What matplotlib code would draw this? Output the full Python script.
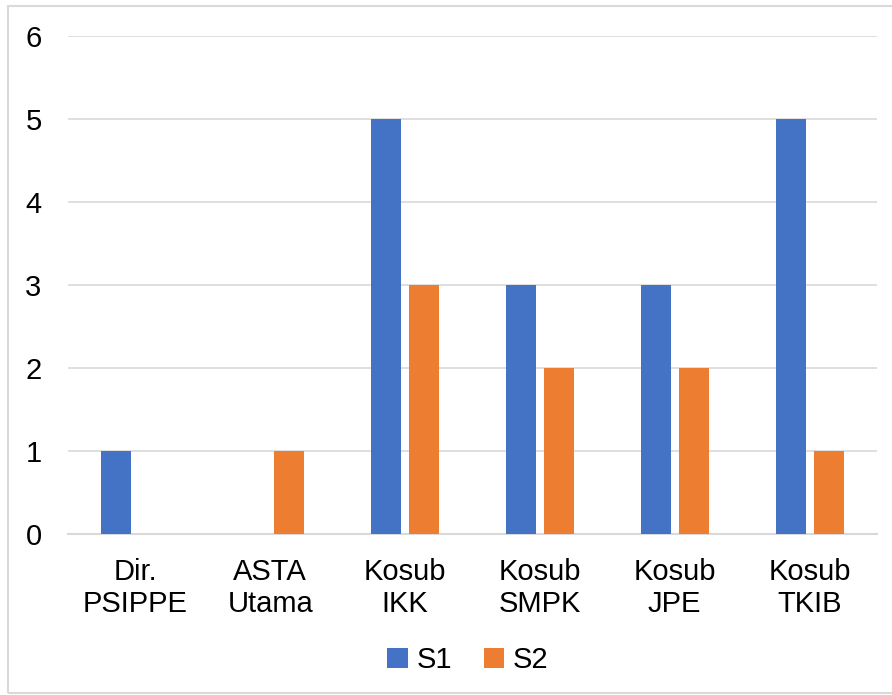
import matplotlib

matplotlib.use("Agg")

import matplotlib.pyplot as plt
import numpy as np
from matplotlib.patches import Rectangle

plt.rcParams["font.family"] = ["Liberation Sans", "DejaVu Sans"]

categories = ["Dir.\nPSIPPE", "ASTA\nUtama", "Kosub\nIKK", "Kosub\nSMPK", "Kosub\nJPE", "Kosub\nTKIB"]
s1 = [1, 0, 5, 3, 3, 5]
s2 = [0, 1, 3, 2, 2, 1]
series_names = ["S1", "S2"]
colors = ["#4472C4", "#ED7D31"]

fig = plt.figure(figsize=(8.92, 6.95), dpi=100)
ax = fig.add_axes([68 / 892, 1 - 534 / 695, (877 - 68) / 892, (534 - 36) / 695])

x = np.arange(len(categories))
w = 0.222
gap = 0.06
ax.bar(x - (w + gap) / 2, s1, w, color=colors[0], label=series_names[0], zorder=3)
ax.bar(x + (w + gap) / 2, s2, w, color=colors[1], label=series_names[1], zorder=3)

ax.set_xlim(-0.5, len(categories) - 0.5)
ax.set_ylim(0, 6)
ax.set_yticks(range(0, 7))
ax.yaxis.grid(True, color="#d9d9d9", lw=1.2, zorder=0)
ax.set_axisbelow(True)
for side in ["top", "right", "left"]:
    ax.spines[side].set_visible(False)
ax.spines["bottom"].set_color("#d9d9d9")
ax.spines["bottom"].set_linewidth(1.5)
ax.tick_params(axis="both", length=0, labelsize=21, colors="black")
ax.tick_params(axis="y", pad=19)
ax.tick_params(axis="x", pad=17)
ax.set_xticks(x)
ax.set_xticklabels(categories, linespacing=1.2)

fig.legend(loc="center", bbox_to_anchor=(468 / 892, 1 - 660 / 695), ncol=2, frameon=False,
           fontsize=21, handlelength=0.7, handleheight=0.7, handletextpad=0.3,
           columnspacing=1.1)

fig.patches.append(Rectangle((8 / 892, 0.003), 1, 1 - 6 / 695 - 0.003, transform=fig.transFigure,
                             fill=False, edgecolor="#d9d9d9", lw=1.5))

fig.savefig("out.png", dpi=100)
